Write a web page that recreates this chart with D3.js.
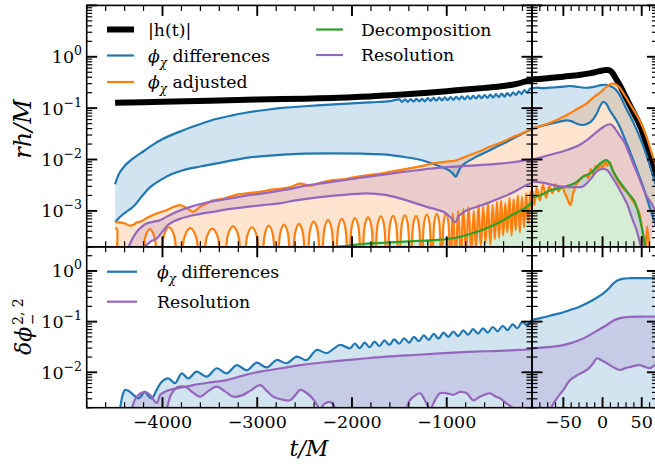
<!DOCTYPE html>
<html>
<head>
<meta charset="utf-8">
<script src="https://cdn.jsdelivr.net/npm/d3@7/dist/d3.min.js"></script>
<style>
html,body{margin:0;padding:0;background:#fff;}
svg{display:block;}
text{font-family:"DejaVu Serif",serif;fill:#000;}
</style>
</head>
<body>
<svg id="chart" width="655" height="464"></svg>
<script>
// ================= DATA =================
const xDomainLeft = [-4800, -100];
const xDomainRight = [-90, 70];
const yDomainTop = [2e-4, 10];
const yDomainBottom = [2e-3, 3];
const xMajorLeft = [-4000, -3000, -2000, -1000];
const xMinorStepLeft = 200;
const xMajorRight = [-50, 0, 50];
const xMinorStepRight = 10;
const yExpTop = [0, -1, -2, -3];
const yExpBottom = [0, -1, -2];

// top panel: |h(t)|
const hAmp = [[-4500,0.127],[-4000,0.133],[-3500,0.14],[-3000,0.147],[-2500,0.153],[-2000,0.163],[-1600,0.178],[-1200,0.2],[-900,0.222],[-600,0.248],[-400,0.27],[-250,0.3],[-150,0.34],[-100,0.355],
 [-90,0.36],[-70,0.38],[-50,0.41],[-30,0.44],[-15,0.48],[-5,0.52],[3,0.55],[8,0.55],[12,0.5],[16,0.4],[22,0.28],[30,0.16],[40,0.08],[48,0.045],[55,0.022],[62,0.009],[70,0.0035]];

// top panel: phi_chi differences (upper / lower)
const diffUpTop = [[-4500,0.0033],[-4460,0.0052],[-4400,0.0075],[-4310,0.0105],[-4200,0.0145],[-4130,0.0178],[-4000,0.025],[-3800,0.036],[-3600,0.049],[-3425,0.062],[-3250,0.073],[-3076,0.084],[-2900,0.093],[-2730,0.101],[-2500,0.109],[-2230,0.117],[-2000,0.124],[-1800,0.13],[-1600,0.137],
 [-1500,0.148],[-1470,0.132],[-1440,0.149],[-1410,0.133],[-1380,0.150],[-1350,0.134],[-1320,0.151],[-1290,0.135],[-1260,0.152],[-1230,0.136],[-1200,0.157],[-1170,0.139],[-1140,0.158],[-1110,0.140],[-1080,0.160],[-1050,0.142],[-1020,0.162],[-990,0.143],[-960,0.164],[-930,0.145],[-900,0.166],[-870,0.147],[-840,0.169],[-810,0.149],[-780,0.171],[-750,0.151],[-720,0.174],[-690,0.154],[-660,0.177],[-630,0.156],[-600,0.180],[-570,0.158],[-540,0.183],[-510,0.161],[-480,0.187],[-450,0.164],[-420,0.191],[-390,0.168],[-360,0.196],[-330,0.173],[-300,0.203],[-270,0.180],[-240,0.212],[-210,0.188],[-180,0.225],[-150,0.200],[-120,0.240],[-100,0.235],
 [-90,0.245],[-84,0.25],[-76,0.245],[-68,0.25],[-60,0.255],[-50,0.262],[-42,0.27],[-34,0.262],[-26,0.252],[-18,0.25],[-10,0.262],[-2,0.28],[4,0.285],[9,0.27],[14,0.25],[20,0.2],[30,0.1],[40,0.05],[50,0.022],[60,0.008],[70,0.0025]];
const diffLoTop = [[-4500,0.00061],[-4420,0.00085],[-4310,0.0012],[-4220,0.0019],[-4130,0.0029],[-4000,0.0042],[-3900,0.0052],[-3784,0.0062],[-3600,0.0073],[-3425,0.0084],[-3250,0.0097],[-3076,0.011],[-2900,0.0118],[-2728,0.0125],[-2500,0.013],[-2232,0.0132],[-1900,0.013],[-1635,0.0125],[-1450,0.0112],[-1282,0.0099],[-1150,0.0083],[-1050,0.0071],[-980,0.0062],[-930,0.0052],[-905,0.0046],[-880,0.0056],[-850,0.0072],[-800,0.0086],[-700,0.011],[-578,0.0141],[-470,0.018],[-367,0.022],[-260,0.028],[-156,0.035],[-100,0.039],
 [-90,0.041],[-75,0.046],[-63,0.051],[-52,0.056],[-46,0.058],[-40,0.056],[-33,0.05],[-26,0.047],[-20,0.049],[-14,0.056],[-8,0.075],[-3,0.11],[1,0.133],[5,0.12],[9,0.092],[13,0.074],[17,0.06],[22,0.043],[30,0.022],[40,0.009],[50,0.0035],[60,0.0012],[70,0.0004]];

// top panel: phi_chi adjusted (upper / lower)
const adjUpTop = [[-4500,0.00061],[-4440,0.00059],[-4395,0.00057],[-4350,0.00052],[-4310,0.00053],[-4270,0.0006],[-4237,0.00061],[-4150,0.00075],[-4061,0.00089],[-3956,0.00104],[-3880,0.0012],[-3815,0.0013],[-3740,0.00112],[-3678,0.00096],[-3604,0.0012],[-3530,0.0014],[-3467,0.0016],[-3380,0.0017],[-3287,0.0019],[-3200,0.0021],[-3111,0.0022],[-3020,0.0023],[-2939,0.0024],[-2850,0.0026],[-2760,0.0027],[-2650,0.0029],[-2548,0.0034],[-2442,0.0031],[-2340,0.0035],[-2232,0.0039],[-2100,0.0041],[-1980,0.0045],[-1845,0.0049],[-1700,0.0053],[-1590,0.0058],[-1493,0.0062],[-1380,0.0068],[-1260,0.0075],[-1145,0.0084],[-1020,0.009],[-895,0.0097],[-770,0.012],[-649,0.0145],[-540,0.018],[-437,0.021],[-330,0.026],[-226,0.031],[-150,0.036],[-100,0.04],
 [-90,0.04],[-75,0.047],[-63,0.055],[-46,0.073],[-33,0.095],[-20,0.124],[-10,0.17],[-3,0.2],[5,0.26],[12,0.3],[17,0.29],[22,0.25],[28,0.18],[35,0.12],[42,0.08],[48,0.055],[56,0.028],[63,0.013],[70,0.006]];
const adjLoTop = [[-4500,4.6e-4],[-4480,4.4e-4],[-4460,3e-5],
 [-4230,3e-5],[-4182,3.1e-4],[-4133,4.4e-4],[-4085,3.1e-4],
 [-4037,3e-5],[-3984,3.4e-4],[-3932,4.8e-4],[-3879,3.4e-4],
 [-3826,3e-5],[-3766,3.2e-4],[-3707,4.6e-4],[-3648,3.2e-4],
 [-3588,3e-5],[-3531,3.15e-4],[-3475,4.5e-4],[-3418,3.15e-4],
 [-3361,3e-5],[-3308,3.5e-4],[-3256,5.0e-4],[-3203,3.5e-4],
 [-3150,3e-5],[-3103,3.4e-4],[-3055,4.8e-4],[-3008,3.4e-4],
 [-2960,3e-5],[-2919,3.6e-4],[-2878,5.2e-4],[-2837,3.6e-4],
 [-2796,3e-5],[-2756,3.8e-4],[-2717,5.4e-4],[-2678,3.8e-4],
 [-2638,3e-5],[-2598,3.9e-4],[-2559,5.6e-4],[-2520,3.9e-4],
 [-2480,3e-5],[-2442,4.3e-4],[-2404,6.2e-4],[-2365,4.3e-4],
 [-2327,3e-5],[-2290,4.6e-4],[-2253,6.6e-4],[-2216,4.6e-4],
 [-2179,3e-5],[-2143,4.9e-4],[-2108,7.0e-4],[-2072,4.9e-4],
 [-2036,3e-5],[-2002,5.0e-4],[-1968,7.2e-4],[-1933,5.0e-4],
 [-1899,3e-5],[-1865,5.2e-4],[-1830,7.5e-4],[-1796,5.2e-4],
 [-1762,3e-5],[-1729,5.5e-4],[-1696,7.8e-4],[-1663,5.5e-4],
 [-1630,3e-5],[-1598,5.6e-4],[-1567,8.0e-4],[-1535,5.6e-4],
 [-1503,3e-5],[-1473,5.7e-4],[-1442,8.2e-4],[-1412,5.7e-4],
 [-1382,3e-5],[-1353,5.6e-4],[-1324,8.0e-4],[-1295,5.6e-4],
 [-1266,3e-5],[-1238,6.0e-4],[-1210,8.5e-4],[-1183,6.0e-4],
 [-1155,3e-5],[-1130,6.2e-4],[-1105,8.8e-4],[-1080,6.2e-4],
 [-1055,3e-5],[-1031,6.3e-4],[-1008,9e-4],[-984,6.3e-4],
 [-960,6e-5],[-935,9e-4],[-905,1.0e-4],[-880,1.0e-3],[-850,1.2e-4],[-825,1.1e-3],[-795,1.5e-4],[-770,1.2e-3],[-740,1.4e-4],[-715,1.0e-3],[-690,1.8e-4],[-665,1.3e-3],[-640,2.0e-4],[-615,1.2e-3],[-590,2.4e-4],[-565,1.4e-3],[-540,2.2e-4],[-515,1.3e-3],[-492,2.8e-4],[-470,1.5e-3],[-448,3.0e-4],[-426,1.6e-3],[-404,3.3e-4],[-382,1.4e-3],[-360,3.8e-4],[-338,1.8e-3],[-316,3.3e-4],[-294,1.7e-3],[-272,4.2e-4],[-250,2.0e-3],[-228,3.8e-4],[-206,1.9e-3],[-184,4.8e-4],[-162,2.2e-3],[-140,5.6e-4],[-118,2.4e-3],[-100,9e-4],
 [-90,2.6e-3],[-87,1.3e-3],[-84,2.8e-3],[-80,1.6e-3],[-76,3.2e-3],[-72,1.8e-3],[-68,3.0e-3],[-64,2.2e-3],[-60,3.3e-3],[-56,2.4e-3],[-52,3.0e-3],[-48,2.2e-3],[-44,1.6e-3],[-41,1.3e-3],[-38,2.0e-3],[-34,3.2e-3],[-28,4.2e-3],[-22,5.0e-3],[-18,4.4e-3],[-15,6.5e-3],[-12,5.0e-3],[-9,7.5e-3],[-6,6e-3],[-3,8.5e-3],[0,6.5e-3],[3,9.5e-3],[6,7.5e-3],[9,9e-3],[13,6e-3],[18,4.2e-3],[24,3e-3],[30,2.4e-3],[36,1.8e-3],[42,1.3e-3],[47,9e-4],[51,4e-4],[54,1.5e-4],[57,5e-4],[60,1e-4]];

// top panel: decomposition
const decompTop = [[-2700,1.2e-4],[-2400,1.8e-4],[-2100,2.05e-4],[-1845,2.3e-4],[-1500,2.5e-4],[-1142,2.7e-4],[-950,2.9e-4],[-789,3.4e-4],[-620,4.3e-4],[-437,6.1e-4],[-300,8.5e-4],[-156,1.2e-3],[-100,1.5e-3],
 [-90,1.8e-3],[-80,2.0e-3],[-67,2.5e-3],[-50,2.9e-3],[-35,3.5e-3],[-25,4.6e-3],[-15,5.5e-3],[-8,7e-3],[-3,8.4e-3],[5,9.7e-3],[9,8.5e-3],[13,6.2e-3],[20,4e-3],[27,2.9e-3],[34,2.1e-3],[41,1.5e-3],[48,6.6e-4],[54,2.3e-4],[58,1.0e-4]];

// top panel: resolution (upper / lower)
const resUpTop = [[-4400,1.2e-4],[-4378,1.6e-4],[-4320,2.8e-4],[-4272,3.9e-4],[-4220,4.9e-4],[-4167,5.7e-4],[-4100,6.1e-4],[-4026,6.6e-4],[-3940,8e-4],[-3850,9.6e-4],[-3750,1.12e-3],[-3639,1.3e-3],[-3460,1.55e-3],[-3287,1.75e-3],[-3100,2.0e-3],[-2939,2.2e-3],[-2700,2.6e-3],[-2442,3.2e-3],[-2150,3.8e-3],[-1845,4.6e-3],[-1500,5.6e-3],[-1142,6.7e-3],[-800,7.5e-3],[-437,8.3e-3],[-156,9.7e-3],[-100,0.01],
 [-90,0.01],[-70,0.012],[-46,0.0152],[-30,0.019],[-20,0.0238],[-10,0.032],[0,0.042],[7,0.048],[11,0.048],[16,0.04],[22,0.029],[27,0.023],[35,0.012],[42,0.0065],[48,0.0039],[56,0.002],[65,0.00118],[70,0.0008]];
const resLoTop = [[-4260,1.2e-4],[-4206,1.8e-4],[-4130,2.5e-4],[-4061,2.9e-4],[-3990,4.2e-4],[-3921,5.7e-4],[-3815,7e-4],[-3650,8.4e-4],[-3467,9.6e-4],[-3300,1.08e-3],[-3111,1.2e-3],[-2940,1.3e-3],[-2760,1.4e-3],[-2600,1.6e-3],[-2442,1.75e-3],[-2150,2.0e-3],[-1845,2.2e-3],[-1650,2.05e-3],[-1493,1.75e-3],[-1350,1.45e-3],[-1211,1.2e-3],[-1100,1.05e-3],[-1036,9.6e-4],[-960,7.5e-4],[-912,6.0e-4],[-870,8.0e-4],[-789,1.03e-3],[-680,1.2e-3],[-578,1.4e-3],[-430,1.8e-3],[-297,2.3e-3],[-200,2.9e-3],[-120,3.4e-3],[-100,3.5e-3],
 [-90,3.7e-3],[-75,3.5e-3],[-60,3.1e-3],[-46,2.9e-3],[-35,2.9e-3],[-25,3.0e-3],[-15,4.2e-3],[-7,6e-3],[0,6.6e-3],[6,6.2e-3],[12,4.6e-3],[18,3.3e-3],[25,2.1e-3],[31,1.4e-3],[38,7e-4],[43.5,4.2e-4],[48,2.3e-4],[54,1e-4]];

// bottom panel: phase differences
const diffBottom = [[-4460,1.2e-3],[-4448,1.9e-3],[-4420,3.6e-3],[-4395,4.5e-3],[-4360,4.3e-3],[-4325,3.85e-3],[-4255,3.06e-3],[-4220,3.5e-3],[-4185,4.1e-3],[-4150,3.4e-3],[-4114,3.06e-3],[-4061,4.5e-3],[-4008,6.5e-3],[-3939,7.6e-3],[-3868,6.1e-3],[-3797,9.5e-3],[-3728,7.6e-3],[-3639,0.0103],[-3533,0.0082],[-3428,0.012],[-3322,0.0095],[-3217,0.0139],[-3111,0.011],[-3006,0.0155],[-2900,0.0125],[-2795,0.0175],[-2689,0.0151],[-2584,0.0204],[-2478,0.0175],[-2373,0.0276],[-2267,0.024],[-2126,0.0346],[-2021,0.0298],
 [-1970,0.037],[-1918,0.030],[-1866,0.0386],[-1814,0.0313],[-1762,0.0403],[-1710,0.033],[-1658,0.0426],[-1606,0.0348],[-1554,0.0448],[-1502,0.0366],[-1450,0.047],[-1398,0.0384],[-1346,0.0498],[-1294,0.041],[-1242,0.0537],[-1190,0.0438],[-1138,0.0571],[-1086,0.0464],[-1034,0.0605],[-982,0.05],[-930,0.0638],[-878,0.0518],[-826,0.0672],[-774,0.0554],[-722,0.0711],[-670,0.058],[-618,0.0739],[-566,0.0607],[-514,0.0784],[-462,0.0643],[-410,0.0829],[-358,0.0679],[-306,0.0885],[-254,0.0741],[-202,0.0986],[-150,0.084],[-100,0.108],
 [-90,0.109],[-75,0.122],[-63,0.136],[-52,0.15],[-41.5,0.17],[-30,0.195],[-20,0.23],[-10,0.28],[1,0.36],[8,0.45],[14,0.57],[19,0.65],[25,0.7],[35,0.72],[50,0.72],[70,0.72]];

// bottom panel: resolution (upper / lower)
const resUpBottom = [[-4360,1.2e-3],[-4325,1.9e-3],[-4290,2.9e-3],[-4255,3.56e-3],[-4220,3.95e-3],[-4185,4.1e-3],[-4150,3.8e-3],[-4114,3.3e-3],[-4079,2.6e-3],[-4058,2.5e-3],[-4040,3.0e-3],[-4026,3.56e-3],[-3980,4.1e-3],[-3921,4.5e-3],[-3800,5.0e-3],[-3675,5.6e-3],[-3500,6.3e-3],[-3322,7e-3],[-3150,8.6e-3],[-2970,0.0103],[-2750,0.012],[-2548,0.0139],[-2232,0.0162],[-1900,0.0185],[-1634,0.0204],[-1300,0.0222],[-930,0.0244],[-600,0.026],[-226,0.0276],[-100,0.029],
 [-90,0.0298],[-63,0.032],[-45,0.036],[-30,0.043],[-20,0.0506],[-8,0.065],[5.5,0.086],[14,0.105],[22.6,0.117],[35,0.124],[50,0.126],[70,0.126]];
const resLoBottom = [[-4360,1e-3],[-4000,1.2e-3],[-3956,1.9e-3],[-3910,3.6e-3],[-3850,5.0e-3],[-3800,5.3e-3],[-3745,5.0e-3],[-3680,4.0e-3],[-3604,3.3e-3],[-3520,4.2e-3],[-3428,5.2e-3],[-3340,4.2e-3],[-3252,3.3e-3],[-3160,3.5e-3],[-3076,4.3e-3],[-2970,5.6e-3],[-2900,4.3e-3],[-2830,3.3e-3],[-2740,2.9e-3],[-2654,2.8e-3],[-2600,3.5e-3],[-2548,4.5e-3],[-2478,3.9e-3],[-2400,2.8e-3],[-2337,1.9e-3],[-2290,2.4e-3],[-2232,2.6e-3],[-2190,2.2e-3],[-2161,1.6e-3],[-2120,1.0e-3],[-1450,1.0e-3],[-1420,2.0e-3],[-1388,2.8e-3],[-1282,3.85e-3],[-1230,2.8e-3],[-1177,1.9e-3],[-1120,2.9e-3],[-1071,3.85e-3],[-1000,3.85e-3],[-930,3.6e-3],[-860,4.1e-3],[-789,3.85e-3],[-719,2.8e-3],[-649,3.3e-3],[-600,3.6e-3],[-543,3.85e-3],[-480,3.3e-3],[-437,3.06e-3],[-367,2.4e-3],[-297,1.9e-3],[-260,1.0e-3],
 [-70,1.0e-3],[-67,1.8e-3],[-60,2.8e-3],[-50,4.5e-3],[-41.5,7e-3],[-30,9.2e-3],[-20,0.0111],[-12,0.015],[-7.3,0.0189],[-2,0.0175],[5.5,0.0151],[14,0.0125],[22.6,0.0111],[30,0.0122],[36,0.0128],[42,0.0135],[48,0.0139],[55,0.0126],[61,0.0121],[67,0.0139],[70,0.014]];

// ================= CHART =================
const svg = d3.select("#chart");
const L = {left:86.7, split:532, right:657.4, top:5.4, mid:246.8, bottom:407.7};
const COL = {black:"#000000", blue:"#1f77b4", orange:"#ff7f0e", green:"#2ca02c", purple:"#9467bd"};
const FONT = '"DejaVu Serif", serif';
const LW = 2.2;

const xL = d3.scaleLinear().domain(xDomainLeft).range([L.left, L.split]);
const xR = d3.scaleLinear().domain(xDomainRight).range([L.split, L.right]);
const yT = d3.scaleLog().domain(yDomainTop).range([L.mid, L.top]);
const yB = d3.scaleLog().domain(yDomainBottom).range([L.bottom, L.mid]);

const defs = svg.append("defs");
let clipN = 0;
function makePanel(x, y){
  const id = "clip" + (clipN++);
  const [x0, x1] = x.range(); const [y1, y0] = y.range();
  defs.append("clipPath").attr("id", id).append("rect")
    .attr("x", x0).attr("y", y0).attr("width", x1 - x0).attr("height", y1 - y0);
  const g = svg.append("g").attr("clip-path", `url(#${id})`);
  return {g, x, y, x0, x1, y0, y1};
}
function lineGen(p){
  return d3.line().x(d => p.x(d[0])).y(d => p.y(d[1])).curve(d3.curveCatmullRom.alpha(0.5));
}
function band(p, up, lo, color){
  const l = lineGen(p);
  p.g.append("path")
    .attr("d", l(up) + l(lo.slice().reverse()).replace(/^M/, "L") + "Z")
    .attr("fill", color).attr("fill-opacity", 0.2).attr("stroke", "none");
}
function curve(p, data, color, w){
  p.g.append("path").attr("d", lineGen(p)(data))
    .attr("fill", "none").attr("stroke", color).attr("stroke-width", w)
    .attr("stroke-linejoin", "round").attr("stroke-linecap", "butt");
}
const floorOf = arr => [[arr[0][0], 1e-7], [arr[arr.length - 1][0], 1e-7]];

function drawTop(p){
  band(p, diffUpTop, diffLoTop, COL.blue);
  band(p, adjUpTop, adjLoTop, COL.orange);
  band(p, decompTop, floorOf(decompTop), COL.green);
  band(p, resUpTop, resLoTop, COL.purple);
  curve(p, hAmp, COL.black, 6);
  curve(p, diffUpTop, COL.blue, LW);
  curve(p, diffLoTop, COL.blue, LW);
  curve(p, adjUpTop, COL.orange, LW);
  curve(p, adjLoTop, COL.orange, LW);
  curve(p, decompTop, COL.green, LW);
  curve(p, resUpTop, COL.purple, LW);
  curve(p, resLoTop, COL.purple, LW);
}
function drawBottom(p){
  band(p, diffBottom, floorOf(diffBottom), COL.blue);
  band(p, resUpBottom, resLoBottom, COL.purple);
  curve(p, diffBottom, COL.blue, LW);
  curve(p, resUpBottom, COL.purple, LW);
  curve(p, resLoBottom, COL.purple, LW);
}

const pTL = makePanel(xL, yT), pTR = makePanel(xR, yT);
const pBL = makePanel(xL, yB), pBR = makePanel(xR, yB);
drawTop(pTL); drawTop(pTR); drawBottom(pBL); drawBottom(pBR);

// ----- ticks & spines -----
const axG = svg.append("g");
function tick(x1, y1, x2, y2, w){
  axG.append("line").attr("x1", x1).attr("y1", y1).attr("x2", x2).attr("y2", y2)
    .attr("stroke", "#000").attr("stroke-width", w);
}
const MAJ = 10.5, MIN = 5.5, MAJW = 1.9, MINW = 1.2;
function xTicks(p, majors, step){
  const [d0, d1] = p.x.domain();
  const start = Math.ceil(d0 / step) * step;
  for (let v = start; v <= d1 + 1e-9; v += step){
    const isMaj = majors.includes(v);
    const len = isMaj ? MAJ : MIN, w = isMaj ? MAJW : MINW;
    const xx = p.x(v);
    tick(xx, p.y0, xx, p.y0 + len, w);
    tick(xx, p.y1, xx, p.y1 - len, w);
  }
}
function yTicks(p){
  const [d0, d1] = p.y.domain();
  const k0 = Math.floor(Math.log10(d0)), k1 = Math.ceil(Math.log10(d1));
  for (let k = k0; k <= k1; k++){
    for (let j = 1; j <= 9; j++){
      const v = j * Math.pow(10, k);
      if (v < d0 * 0.999 || v > d1 * 1.001) continue;
      const isMaj = j === 1;
      const len = isMaj ? MAJ : MIN, w = isMaj ? MAJW : MINW;
      const yy = p.y(v);
      tick(p.x0, yy, p.x0 + len, yy, w);
      tick(p.x1, yy, p.x1 - len, yy, w);
    }
  }
}
[pTL, pBL].forEach(p => { xTicks(p, xMajorLeft, xMinorStepLeft); yTicks(p); });
[pTR, pBR].forEach(p => { xTicks(p, xMajorRight, xMinorStepRight); yTicks(p); });
[pTL, pTR, pBL, pBR].forEach(p => {
  axG.append("rect").attr("x", p.x0).attr("y", p.y0).attr("width", p.x1 - p.x0).attr("height", p.y1 - p.y0)
    .attr("fill", "none").attr("stroke", "#000").attr("stroke-width", 1.6);
});

// ----- tick labels -----
const lab = svg.append("g").style("font-family", FONT);
function yLabels(scale, exps){
  exps.forEach(e => {
    const t = lab.append("text").attr("x", 82).attr("y", scale(Math.pow(10, e)) + 6.5)
      .attr("text-anchor", "end").style("font-size", "17.5px");
    t.append("tspan").text("10");
    t.append("tspan").attr("dy", -8).style("font-size", "12.5px").text(e === 0 ? "0" : "\u2212" + Math.abs(e));
  });
}
yLabels(yT, yExpTop); yLabels(yB, yExpBottom);
const fmtX = v => v < 0 ? "\u2212" + Math.abs(v) : String(v);
xMajorLeft.forEach(v => lab.append("text").attr("x", xL(v)).attr("y", 428).attr("text-anchor", "middle").style("font-size", "17.5px").text(fmtX(v)));
xMajorRight.forEach(v => lab.append("text").attr("x", xR(v)).attr("y", 428).attr("text-anchor", "middle").style("font-size", "17.5px").text(fmtX(v)));

// axis titles
lab.append("text").attr("x", 309).attr("y", 456).attr("text-anchor", "middle")
  .style("font-size", "22px").style("font-style", "italic").text("t/M");
lab.append("g").attr("transform", "translate(31,129) rotate(-90)")
  .append("text").attr("text-anchor", "middle").style("font-size", "24px").style("font-style", "italic").text("rh/M");
const yl = lab.append("g").attr("transform", "translate(31,328) rotate(-90)");
yl.append("text").attr("x", -27).attr("y", 0).style("font-size", "22px").style("font-style", "italic").text("\u03b4\u03d5");
yl.append("text").attr("x", 3).attr("y", -8).style("font-size", "14px").text("2, 2");
yl.append("text").attr("x", 3).attr("y", 6).style("font-size", "14px").text("\u2212");

// ----- legends -----
const legTop = [
  {label:"|h(t)|", color:COL.black, w:6, x0:107, x1:134, tx:148, y:29.5},
  {label:"phi differences", color:COL.blue, w:LW, x0:107, x1:134, tx:148, y:55.5},
  {label:"phi adjusted", color:COL.orange, w:LW, x0:107, x1:134, tx:148, y:82},
  {label:"Decomposition", color:COL.green, w:LW, x0:316, x1:343, tx:361, y:29.5},
  {label:"Resolution", color:COL.purple, w:LW, x0:316, x1:343, tx:361, y:55}
];
const legBottom = [
  {label:"phi differences", color:COL.blue, w:LW, x0:107, x1:137, tx:157, y:271.7},
  {label:"Resolution", color:COL.purple, w:LW, x0:107, x1:137, tx:157, y:301.7}
];
function legend(items){
  items.forEach(it => {
    lab.append("line").attr("x1", it.x0).attr("x2", it.x1).attr("y1", it.y).attr("y2", it.y)
      .attr("stroke", it.color).attr("stroke-width", it.w);
    const t = lab.append("text").attr("x", it.tx).attr("y", it.y + 6).style("font-size", "17.3px");
    if (it.label.startsWith("phi ")){
      t.append("tspan").style("font-style", "italic").text("\u03d5");
      t.append("tspan").attr("dy", 5).style("font-size", "12px").style("font-style", "italic").text("\u03c7");
      t.append("tspan").attr("dy", -5).text("\u00a0" + it.label.slice(4));
    } else {
      t.text(it.label);
    }
  });
}
legend(legTop); legend(legBottom);
</script>
</body>
</html>
